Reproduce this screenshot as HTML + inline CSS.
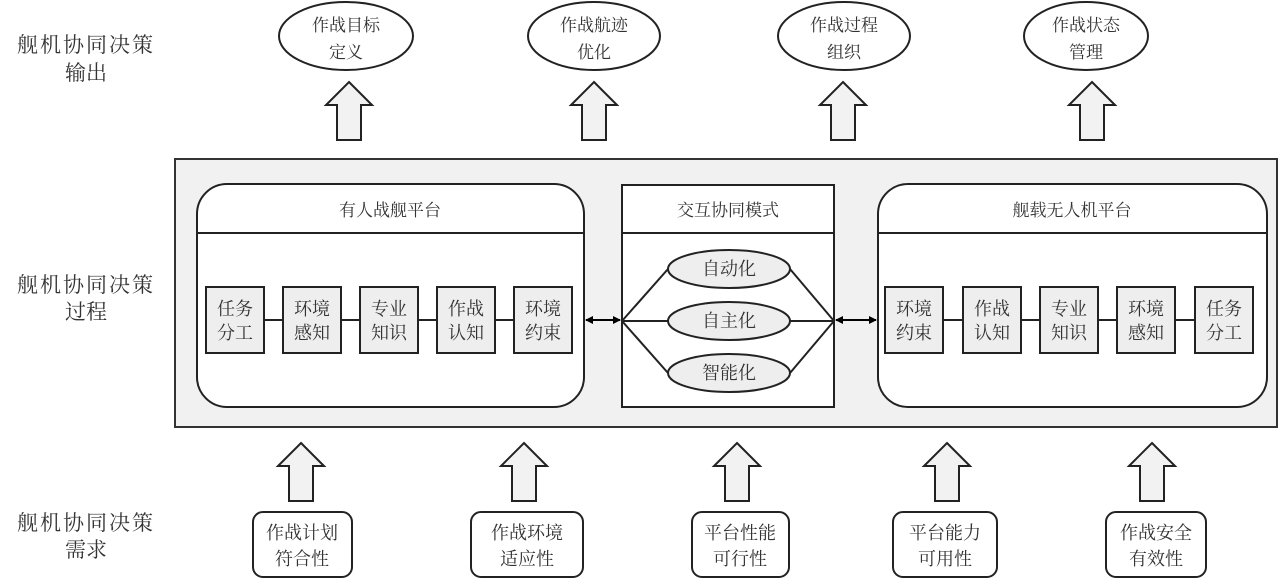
<!DOCTYPE html>
<html><head><meta charset="utf-8"><style>
html,body{margin:0;padding:0;background:#fff;}
svg text{font-family:"Liberation Serif","Noto Serif CJK SC","Noto Sans CJK SC",serif;fill:#333;}
</style></head><body>
<svg width="1280" height="580" viewBox="0 0 1280 580" xmlns="http://www.w3.org/2000/svg">
<defs>
<marker id="ah" markerWidth="8" markerHeight="8" refX="7" refY="4" orient="auto" markerUnits="userSpaceOnUse"><path d="M0,0 L8,4 L0,8 z" fill="#000"/></marker>
<marker id="ahs" markerWidth="8" markerHeight="8" refX="1" refY="4" orient="auto" markerUnits="userSpaceOnUse"><path d="M8,0 L0,4 L8,8 z" fill="#000"/></marker>
<g id="up"><path d="M0,0 L23,23 L12,23 L12,58 L-12,58 L-12,23 L-23,23 Z" fill="#f2f2f2" stroke="#222" stroke-width="2"/></g>
</defs>
<!-- left labels -->
<g font-size="21" text-anchor="middle">
<text x="86" y="52" letter-spacing="2">舰机协同决策</text><text x="86" y="80">输出</text>
<text x="86" y="292" letter-spacing="2">舰机协同决策</text><text x="86" y="319">过程</text>
<text x="86" y="530" letter-spacing="2">舰机协同决策</text><text x="86" y="557">需求</text>
</g>
<!-- top ellipses -->
<g fill="#fff" stroke="#222" stroke-width="2">
<ellipse cx="346" cy="36" rx="67" ry="34"/><ellipse cx="594" cy="36" rx="66" ry="34"/>
<ellipse cx="844" cy="36" rx="66" ry="34"/><ellipse cx="1086" cy="36" rx="62" ry="34"/>
</g>
<g font-size="17" text-anchor="middle">
<text x="346" y="31">作战目标</text><text x="346" y="58">定义</text>
<text x="594" y="31">作战航迹</text><text x="594" y="58">优化</text>
<text x="844" y="31">作战过程</text><text x="844" y="58">组织</text>
<text x="1086" y="31">作战状态</text><text x="1086" y="58">管理</text>
</g>
<use href="#up" x="349" y="82"/><use href="#up" x="594" y="82"/><use href="#up" x="843" y="82"/><use href="#up" x="1092" y="82"/>
<!-- main box -->
<rect x="175" y="159" width="1102" height="268" fill="#f1f1f1" stroke="#333" stroke-width="2"/>
<!-- left platform -->
<rect x="197" y="184" width="387" height="223" rx="30" fill="#fff" stroke="#222" stroke-width="2"/>
<line x1="197" y1="233" x2="584" y2="233" stroke="#222" stroke-width="2"/>
<text x="390" y="216" font-size="17" text-anchor="middle">有人战舰平台</text>
<line x1="234" y1="320" x2="543" y2="320" stroke="#222" stroke-width="2"/>
<g fill="#eeeeee" stroke="#222" stroke-width="2">
<rect x="206" y="287" width="58" height="66"/><rect x="283" y="287" width="58" height="66"/><rect x="360" y="287" width="58" height="66"/><rect x="437" y="287" width="58" height="66"/><rect x="514" y="287" width="58" height="66"/>
</g>
<g font-size="18" text-anchor="middle">
<text x="235" y="315">任务</text><text x="235" y="339">分工</text>
<text x="312" y="315">环境</text><text x="312" y="339">感知</text>
<text x="389" y="315">专业</text><text x="389" y="339">知识</text>
<text x="466" y="315">作战</text><text x="466" y="339">认知</text>
<text x="543" y="315">环境</text><text x="543" y="339">约束</text>
</g>
<!-- middle -->
<rect x="622" y="185" width="212" height="222" fill="#fff" stroke="#222" stroke-width="2"/>
<line x1="622" y1="233" x2="834" y2="233" stroke="#222" stroke-width="2"/>
<text x="728" y="216" font-size="17" text-anchor="middle">交互协同模式</text>
<g stroke="#222" stroke-width="2" fill="none">
<path d="M622,321 L668,269 M622,321 L668,321 M622,321 L668,373 M834,321 L790,269 M834,321 L790,321 M834,321 L790,373"/>
</g>
<g fill="#eeeeee" stroke="#222" stroke-width="2">
<ellipse cx="729" cy="269" rx="61" ry="19"/><ellipse cx="729" cy="321" rx="61" ry="19"/><ellipse cx="729" cy="373" rx="61" ry="19"/>
</g>
<g font-size="18" text-anchor="middle">
<text x="729" y="275">自动化</text><text x="729" y="327">自主化</text><text x="729" y="379">智能化</text>
</g>
<!-- double arrows -->
<line x1="586" y1="320" x2="620" y2="320" stroke="#000" stroke-width="2" marker-start="url(#ahs)" marker-end="url(#ah)"/>
<line x1="836" y1="320" x2="876" y2="320" stroke="#000" stroke-width="2" marker-start="url(#ahs)" marker-end="url(#ah)"/>
<!-- right platform -->
<rect x="878" y="184" width="389" height="223" rx="30" fill="#fff" stroke="#222" stroke-width="2"/>
<line x1="878" y1="233" x2="1267" y2="233" stroke="#222" stroke-width="2"/>
<text x="1072" y="216" font-size="17" text-anchor="middle">舰载无人机平台</text>
<line x1="914" y1="320" x2="1224" y2="320" stroke="#222" stroke-width="2"/>
<g fill="#eeeeee" stroke="#222" stroke-width="2">
<rect x="885" y="287" width="58" height="66"/><rect x="963" y="287" width="58" height="66"/><rect x="1040" y="287" width="58" height="66"/><rect x="1117" y="287" width="58" height="66"/><rect x="1195" y="287" width="58" height="66"/>
</g>
<g font-size="18" text-anchor="middle">
<text x="914" y="315">环境</text><text x="914" y="339">约束</text>
<text x="992" y="315">作战</text><text x="992" y="339">认知</text>
<text x="1069" y="315">专业</text><text x="1069" y="339">知识</text>
<text x="1146" y="315">环境</text><text x="1146" y="339">感知</text>
<text x="1224" y="315">任务</text><text x="1224" y="339">分工</text>
</g>
<!-- bottom arrows -->
<use href="#up" x="301" y="443"/><use href="#up" x="524" y="443"/><use href="#up" x="737" y="443"/><use href="#up" x="947" y="443"/><use href="#up" x="1152" y="443"/>
<g fill="#fff" stroke="#222" stroke-width="2">
<rect x="253" y="512" width="99" height="65" rx="10"/><rect x="471" y="512" width="112" height="65" rx="10"/><rect x="692" y="512" width="97" height="65" rx="10"/><rect x="893" y="512" width="104" height="65" rx="10"/><rect x="1106" y="512" width="100" height="65" rx="10"/>
</g>
<g font-size="18" text-anchor="middle">
<text x="302" y="539">作战计划</text><text x="302" y="565">符合性</text>
<text x="527" y="539">作战环境</text><text x="527" y="565">适应性</text>
<text x="740" y="539">平台性能</text><text x="740" y="565">可行性</text>
<text x="945" y="539">平台能力</text><text x="945" y="565">可用性</text>
<text x="1156" y="539">作战安全</text><text x="1156" y="565">有效性</text>
</g>
</svg>
</body></html>
